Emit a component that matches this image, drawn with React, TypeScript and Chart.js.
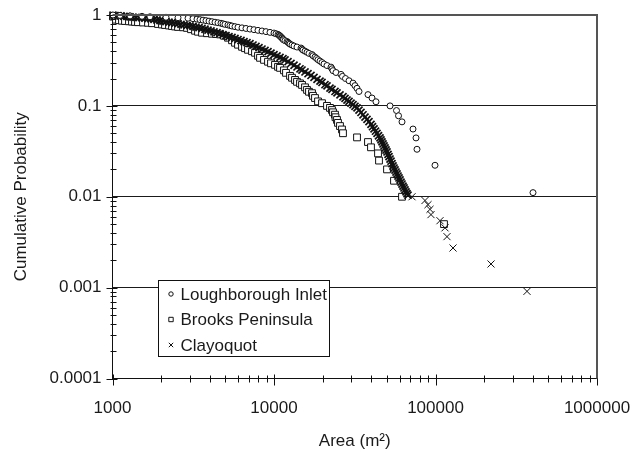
import React, { useEffect, useRef } from 'react';
import { Chart, registerables } from 'chart.js';

Chart.register(...registerables);

// ---------------- data ----------------
const seriesNames = ['Loughborough Inlet', 'Brooks Peninsula', 'Clayoquot'];

const loughArea = [
  1007, 1113, 1284, 1523, 1707, 2144, 2545, 2935, 3151, 3336,
  3482, 3634, 3793, 3958, 4131, 4313, 4501, 4697, 4833, 4973,
  5190, 5340, 5495, 5735, 5985, 6337, 6708, 7101, 7518, 7959,
  8428, 8923, 9445, 10000, 10290, 10590, 10740, 10890, 10970, 11130,
  11210, 11370, 11450, 11700, 12040, 12210, 12390, 12570, 12925, 13300,
  13880, 14700, 14910, 15120, 15560, 16010, 16470, 17190, 17430, 17940,
  18330, 18730, 19270, 19830, 20400, 21290, 22540, 22860, 23190, 24200,
  25990, 26550, 27720, 29140, 30840, 31730, 32660, 33600, 38190, 40440,
  42810, 52290, 57360, 59020, 62030, 72560, 75740, 76810, 99300, 401600,
];
const loughProb = [
  1, 0.989, 0.978, 0.967, 0.956, 0.944, 0.933, 0.922, 0.911, 0.9,
  0.889, 0.878, 0.867, 0.856, 0.844, 0.833, 0.822, 0.811, 0.8, 0.789,
  0.778, 0.767, 0.756, 0.744, 0.733, 0.722, 0.711, 0.7, 0.689, 0.678,
  0.667, 0.656, 0.644, 0.633, 0.622, 0.611, 0.6, 0.589, 0.578, 0.567,
  0.556, 0.544, 0.533, 0.522, 0.511, 0.5, 0.489, 0.478, 0.467, 0.456,
  0.444, 0.433, 0.422, 0.411, 0.4, 0.389, 0.378, 0.367, 0.356, 0.344,
  0.333, 0.322, 0.311, 0.3, 0.289, 0.278, 0.267, 0.256, 0.244, 0.233,
  0.222, 0.211, 0.2, 0.189, 0.178, 0.167, 0.156, 0.144, 0.133, 0.122,
  0.111, 0.1, 0.0889, 0.0778, 0.0667, 0.0556, 0.0444, 0.0333, 0.0222, 0.0111,
];

const brooksArea = [
  1007, 1051, 1097, 1145, 1195, 1265, 1320, 1378, 1438, 1545,
  1659, 1757, 1913, 2025, 2114, 2238, 2336, 2438, 2545, 2733,
  2893, 3063, 3243, 3384, 3583, 3848, 4131, 4375, 4631, 4902,
  5190, 5495, 5735, 5985, 6337, 6613, 6902, 7307, 7626, 7959,
  8191, 8672, 9180, 9581, 10144, 10588, 10894, 11530, 11865, 12566,
  12925, 13490, 13882, 14488, 14910, 15560, 16010, 16470, 17190, 17430,
  17940, 18730, 19830, 21290, 22220, 22860, 23190, 23860, 24030, 24550,
  24900, 25620, 26360, 26740, 32660, 38190, 39860, 44060, 44690, 50090,
  55340, 62030, 112900,
];
const brooksProb = [
  0.96, 0.888, 0.876, 0.865, 0.859, 0.852, 0.846, 0.839, 0.833, 0.827,
  0.82, 0.812, 0.796, 0.786, 0.776, 0.766, 0.756, 0.747, 0.739, 0.732,
  0.721, 0.697, 0.671, 0.654, 0.638, 0.63, 0.622, 0.617, 0.611, 0.591,
  0.562, 0.527, 0.495, 0.471, 0.447, 0.431, 0.414, 0.399, 0.384, 0.356,
  0.338, 0.321, 0.306, 0.294, 0.283, 0.269, 0.262, 0.246, 0.231, 0.214,
  0.204, 0.193, 0.184, 0.177, 0.17, 0.16, 0.15, 0.143, 0.138, 0.129,
  0.122, 0.112, 0.107, 0.1, 0.095, 0.09, 0.085, 0.08, 0.075, 0.07,
  0.065, 0.06, 0.055, 0.05, 0.045, 0.04, 0.035, 0.03, 0.025, 0.02,
  0.015, 0.01, 0.005,
];

const clayArea = [
  1007, 1036, 1082, 1129, 1178, 1229, 1284, 1339, 1398, 1459,
  1523, 1589, 1659, 1731, 1807, 1886, 1969, 2054, 2144, 2238,
  2336, 2438, 2545, 2656, 2772, 2893, 3019, 3151, 3289, 3433,
  3583, 3739, 3903, 4073, 4251, 4437, 4631, 4833, 5044, 5265,
  5495, 5735, 5985, 6247, 6520, 6805, 7101, 7413, 7735, 8074,
  8428, 8796, 9180, 9581, 10000, 10437, 10894, 11368, 11700, 12209,
  12742, 13301, 13882, 14488, 14910, 15560, 16240, 16950, 17690, 18460,
  19270, 19830, 20690, 21290, 22220, 22860, 23860, 24550, 25620, 26740,
  27520, 28320, 29140, 29990, 30840, 31730, 32660, 33600, 34570, 35570,
  36600, 37650, 38740, 39860, 40730, 41610, 42510, 43430, 44370, 45330,
  45980, 46640, 47310, 47990, 48680, 49380, 50090, 50800, 51540, 52290,
  53030, 53800, 54560, 55340, 56140, 56940, 57770, 58600, 59430, 60290,
  61160, 62030, 62920, 63830, 64730, 65670, 66620, 67570, 71530, 86100,
  89860, 92460, 93780, 106600, 114500, 117800, 128400, 220700, 368600,
];
const clayProb = [
  0.995, 0.987, 0.982, 0.975, 0.968, 0.963, 0.955, 0.948, 0.941, 0.936,
  0.929, 0.922, 0.915, 0.906, 0.894, 0.881, 0.87, 0.859, 0.846, 0.835,
  0.822, 0.812, 0.802, 0.79, 0.78, 0.768, 0.758, 0.749, 0.737, 0.728,
  0.714, 0.697, 0.681, 0.668, 0.653, 0.638, 0.624, 0.608, 0.594, 0.579,
  0.566, 0.552, 0.537, 0.524, 0.509, 0.496, 0.483, 0.467, 0.452, 0.437,
  0.422, 0.408, 0.395, 0.38, 0.367, 0.354, 0.342, 0.33, 0.32, 0.306,
  0.293, 0.28, 0.268, 0.256, 0.248, 0.236, 0.226, 0.216, 0.206, 0.196,
  0.187, 0.181, 0.171, 0.166, 0.157, 0.152, 0.144, 0.139, 0.132, 0.126,
  0.121, 0.116, 0.112, 0.107, 0.103, 0.099, 0.095, 0.0897, 0.0846, 0.0798,
  0.0753, 0.071, 0.067, 0.0625, 0.059, 0.0558, 0.0526, 0.0498, 0.0469, 0.0444,
  0.0422, 0.0401, 0.0381, 0.0362, 0.0344, 0.0327, 0.0311, 0.0293, 0.0276, 0.026,
  0.0246, 0.0231, 0.0218, 0.0207, 0.0197, 0.0187, 0.0178, 0.0169, 0.0161, 0.0153,
  0.0145, 0.0138, 0.0131, 0.0125, 0.0119, 0.0113, 0.0108, 0.0104, 0.01, 0.00909,
  0.00818, 0.00727, 0.00636, 0.00545, 0.00455, 0.00364, 0.00273, 0.00182, 0.00091,
];

const xTickLabels = ['1000', '10000', '100000', '1000000'];
const yTickLabels = ['0.0001', '0.001', '0.01', '0.1', '1'];
const xTitle = 'Area (m²)';
const yTitle = 'Cumulative Probability';

// ---------------- styling ----------------
const FONT = "'Liberation Sans', Arial, Helvetica, sans-serif";
const FS = 17;
const INK = '#1a1a1a';
const LEGEND = { left: 158.5, top: 280.5, width: 171, height: 76, rowTop: 13.5, rowGap: 25.5, markerX: 12.5, textX: 22 };
const markerKinds = ['circle', 'rect', 'cross'];

const decadeIndex = (v: number, minExp: number) => {
  if (!v || v <= 0) return -1;
  const e = Math.log10(v);
  const r = Math.round(e);
  return Math.abs(e - r) < 1e-6 ? r - minExp : -1;
};

const toPoints = (xs: number[], ys: number[]) => xs.map((x, i) => ({ x, y: ys[i] }));

function drawMarker(ctx: CanvasRenderingContext2D, kind: string, x: number, y: number, s: number) {
  ctx.beginPath();
  if (kind === 'circle') ctx.arc(x, y, s, 0, Math.PI * 2);
  else if (kind === 'rect') ctx.rect(x - s, y - s, 2 * s, 2 * s);
  else {
    ctx.moveTo(x - s, y - s);
    ctx.lineTo(x + s, y + s);
    ctx.moveTo(x + s, y - s);
    ctx.lineTo(x - s, y + s);
  }
  if (kind !== 'cross') {
    ctx.fillStyle = '#fff';
    ctx.fill();
  }
  ctx.stroke();
}

const framePlugin = {
  id: 'frame',
  afterDatasetsDraw(chart: any) {
    const { ctx, chartArea: a, scales } = chart;
    const xs = scales.x;
    const ys = scales.y;
    ctx.save();
    ctx.strokeStyle = '#111';
    ctx.lineWidth = 1;
    ctx.beginPath();
    for (let e = 3; e <= 6; e++) {
      for (let m = 1; m <= 9; m++) {
        const v = m * Math.pow(10, e);
        if (v > 1e6 * 1.0001) break;
        const px = Math.round(xs.getPixelForValue(v)) + 0.5;
        const major = m === 1;
        ctx.moveTo(px, a.bottom - (major ? 4 : 3));
        ctx.lineTo(px, a.bottom + (major ? 7 : 4));
      }
    }
    for (let e = -4; e <= 0; e++) {
      for (let m = 1; m <= 9; m++) {
        const v = m * Math.pow(10, e);
        if (v > 1.0001) break;
        const py = Math.round(ys.getPixelForValue(v)) + 0.5;
        const major = m === 1;
        ctx.moveTo(a.left - (major ? 6 : 2), py);
        ctx.lineTo(a.left + (major ? 5 : 4), py);
      }
    }
    ctx.stroke();
    ctx.strokeStyle = '#555';
    ctx.lineWidth = 2;
    ctx.beginPath();
    ctx.moveTo(a.left, a.top);
    ctx.lineTo(a.right, a.top);
    ctx.lineTo(a.right, a.bottom);
    ctx.stroke();
    ctx.restore();
  },
  afterDraw(chart: any) {
    const ctx: CanvasRenderingContext2D = chart.ctx;
    ctx.save();
    ctx.fillStyle = '#fff';
    ctx.fillRect(LEGEND.left, LEGEND.top, LEGEND.width, LEGEND.height);
    ctx.strokeStyle = '#111';
    ctx.lineWidth = 1;
    ctx.strokeRect(LEGEND.left, LEGEND.top, LEGEND.width, LEGEND.height);
    seriesNames.forEach((name, i) => {
      const cy = LEGEND.top + LEGEND.rowTop + i * LEGEND.rowGap;
      ctx.strokeStyle = '#111';
      ctx.lineWidth = 1;
      drawMarker(ctx, markerKinds[i], LEGEND.left + LEGEND.markerX, cy, 2.2);
      ctx.fillStyle = INK;
      ctx.font = `${FS}px ${FONT}`;
      ctx.textAlign = 'left';
      ctx.textBaseline = 'middle';
      ctx.fillText(name, LEGEND.left + LEGEND.textX, cy + 1);
    });
    ctx.restore();
  },
};

export default function App() {
  const ref = useRef<HTMLCanvasElement>(null);
  useEffect(() => {
    if (!ref.current) return;
    const chart = new Chart(ref.current, {
      type: 'scatter',
      data: {
        datasets: [
          {
            label: seriesNames[0],
            data: toPoints(loughArea, loughProb),
            pointStyle: 'circle',
            pointRadius: 3,
            pointBorderWidth: 1,
            pointBorderColor: '#111',
            pointBackgroundColor: '#fff',
            order: 0,
            clip: false,
          } as any,
          {
            label: seriesNames[1],
            data: toPoints(brooksArea, brooksProb),
            pointStyle: 'rect',
            pointRadius: 4.8,
            pointBorderWidth: 1,
            pointBorderColor: '#111',
            pointBackgroundColor: '#fff',
            order: 2,
            clip: false,
          } as any,
          {
            label: seriesNames[2],
            data: toPoints(clayArea, clayProb),
            pointStyle: 'crossRot',
            pointRadius: 5,
            pointBorderWidth: (c: any) => (c.raw && c.raw.y < 0.0101 ? 1 : 1.7),
            pointBorderColor: '#111',
            pointBackgroundColor: '#111',
            order: 1,
            clip: false,
          } as any,
        ],
      },
      options: {
        animation: false,
        responsive: false,
        devicePixelRatio: 1,
        events: [],
        layout: { padding: { top: 15, right: 36, left: 0, bottom: 0 } },
        plugins: { legend: { display: false }, tooltip: { enabled: false } },
        scales: {
          x: {
            type: 'logarithmic',
            min: 1000,
            max: 1000000,
            afterFit: (s: any) => { s.height = 73.5; s.paddingLeft = 0; s.paddingRight = 0; },
            grid: { display: true, color: 'rgba(0,0,0,0)', drawTicks: false },
            border: { display: true, color: '#111', width: 1 },
            ticks: {
              autoSkip: false,
              maxRotation: 0,
              padding: 20,
              color: INK,
              font: { family: FONT, size: FS },
              callback: (v: any) => {
                const i = decadeIndex(Number(v), 3);
                return i >= 0 && i < xTickLabels.length ? xTickLabels[i] : '';
              },
            },
            title: { display: true, text: xTitle, color: INK, font: { family: FONT, size: FS }, padding: { top: 0, bottom: 0 } },
          },
          y: {
            type: 'logarithmic',
            min: 0.0001,
            max: 1,
            afterFit: (s: any) => { s.width = 112.5; s.paddingTop = 0; s.paddingBottom = 0; },
            grid: {
              display: true,
              drawTicks: false,
              lineWidth: 1,
              color: (c: any) => {
                const i = decadeIndex(c.tick ? c.tick.value : 0, -4);
                return i >= 1 && i <= 3 ? '#1a1a1a' : 'rgba(0,0,0,0)';
              },
            },
            border: { display: true, color: '#111', width: 1 },
            ticks: {
              autoSkip: false,
              padding: 11,
              color: INK,
              font: { family: FONT, size: FS },
              callback: (v: any) => {
                const i = decadeIndex(Number(v), -4);
                return i >= 0 && i < yTickLabels.length ? yTickLabels[i] : '';
              },
            },
            title: { display: true, text: yTitle, color: INK, font: { family: FONT, size: FS }, padding: { top: 11, bottom: 0 } },
          },
        },
      } as any,
      plugins: [framePlugin as any],
    });
    return () => chart.destroy();
  }, []);
  return (
    <div style={{ position: 'fixed', left: 0, top: 0, width: 633, height: 452, background: '#fff' }}>
      <canvas ref={ref} width={633} height={452} style={{ display: 'block' }} />
    </div>
  );
}
